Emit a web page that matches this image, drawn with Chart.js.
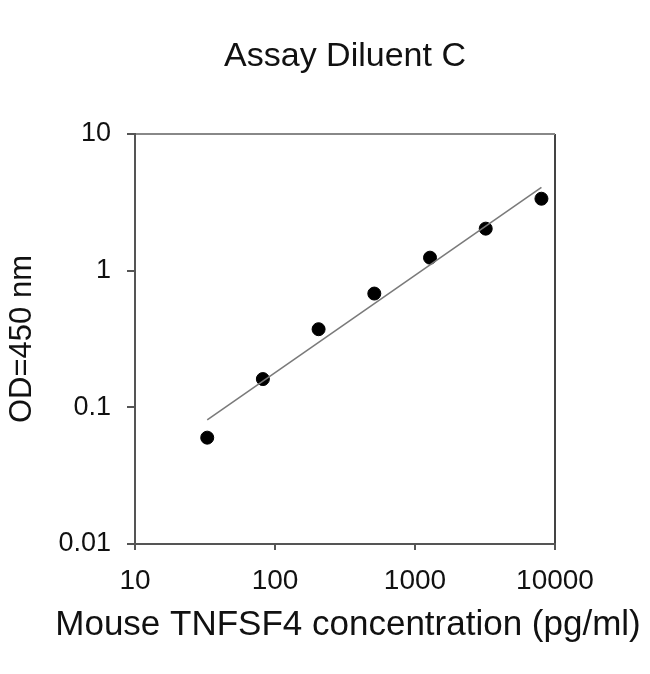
<!DOCTYPE html>
<html>
<head>
<meta charset="utf-8">
<title>Assay Diluent C</title>
<script src="https://cdn.jsdelivr.net/npm/chart.js@4/dist/chart.umd.min.js"></script>
<style>
	body { margin: 0; background: #fff; }
	#wrap { width: 650px; height: 674px; }
</style>
</head>
<body>
<div id="wrap"><canvas id="myChart" width="650" height="674"></canvas></div>
<script>
// standard curve
var concentration = [32.8, 81.9, 204.8, 512, 1280, 3200, 8000];
var od = [0.060, 0.161, 0.373, 0.68, 1.245, 2.03, 3.36];

// fitted line, end points only
var fitX = [32.8, 8000];
var fitY = [0.081, 4.07];

var xTicks = [10, 100, 1000, 10000];
var xTickLabels = ['10', '100', '1000', '10000'];
var yTicks = [0.01, 0.1, 1, 10];
var yTickLabels = ['0.01', '0.1', '1', '10'];

var chartTitle = 'Assay Diluent C';
var xTitle = 'Mouse TNFSF4 concentration (pg/ml)';
var yTitle = 'OD=450 nm';

function toPoints(xs, ys) {
	var pts = [];
	xs.forEach(function(x, i) {
		pts.push({ x: x, y: ys[i] });
	});
	return pts;
}

function fixedTicks(values) {
	return function(scale) {
		scale.ticks = values.map(function(v) { return { value: v }; });
	};
}

function tickLabel(values, labels) {
	return function(value) {
		var i = values.indexOf(value);
		return i >= 0 ? labels[i] : '';
	};
}

var fontFamily = '"Liberation Sans", Arial, sans-serif';

// title and x axis title centred over the plot area, drawn at full width
var titles = {
	id: 'titles',
	afterDraw: function(chart) {
		var c = chart.ctx;
		var area = chart.chartArea;
		var mid = (area.left + area.right) / 2;
		c.save();
		c.fillStyle = '#111';
		c.textAlign = 'center';
		c.textBaseline = 'middle';
		c.font = '34px ' + fontFamily;
		c.fillText(chartTitle, mid, 57);
		c.font = '35px ' + fontFamily;
		c.fillText(xTitle, mid + 3, 625);
		c.restore();
	}
};

var ctx = document.getElementById('myChart').getContext('2d');

var myChart = new Chart(ctx, {
	type: 'scatter',
	data: {
		datasets: [{
			label: 'fit',
			data: toPoints(fitX, fitY),
			showLine: true,
			borderColor: '#7a7a7a',
			borderWidth: 1.5,
			pointRadius: 0,
			fill: false
		}, {
			label: 'OD',
			data: toPoints(concentration, od),
			backgroundColor: '#000',
			borderColor: '#000',
			pointRadius: 6.5,
			pointHoverRadius: 6.5
		}]
	},
	plugins: [titles],
	options: {
		responsive: false,
		animation: false,
		devicePixelRatio: 1,
		layout: { padding: { left: 0, right: 95, top: 134, bottom: 0 } },
		plugins: {
			legend: { display: false },
			tooltip: { enabled: false },
			title: { display: false }
		},
		scales: {
			x: {
				type: 'logarithmic',
				min: 10,
				max: 10000,
				afterBuildTicks: fixedTicks(xTicks),
				afterFit: function(scale) { scale.height = 130; },
				border: { display: true, color: '#555', width: 2 },
				grid: {
					drawOnChartArea: true,
					color: function(c) { return c.tick && c.tick.value === 10000 ? '#444' : 'rgba(0,0,0,0)'; },
					lineWidth: 2,
					tickColor: '#555',
					tickLength: 6
				},
				ticks: {
					color: '#111',
					padding: 14,
					maxRotation: 0,
					autoSkip: false,
					font: { family: fontFamily, size: 28 },
					callback: tickLabel(xTicks, xTickLabels)
				}
			},
			y: {
				type: 'logarithmic',
				min: 0.01,
				max: 10,
				afterBuildTicks: fixedTicks(yTicks),
				afterFit: function(scale) { scale.width = 135; },
				border: { display: true, color: '#555', width: 2 },
				grid: {
					drawOnChartArea: true,
					color: function(c) { return c.tick && c.tick.value === 10 ? '#888' : 'rgba(0,0,0,0)'; },
					lineWidth: 2,
					tickColor: '#555',
					tickLength: 8
				},
				ticks: {
					color: '#111',
					padding: 16,
					autoSkip: false,
					font: { family: fontFamily, size: 27 },
					callback: tickLabel(yTicks, yTickLabels)
				},
				title: {
					display: true,
					text: yTitle,
					color: '#111',
					font: { family: fontFamily, size: 31 },
					padding: { top: 4, bottom: 0 }
				}
			}
		}
	}
});
</script>
</body>
</html>
